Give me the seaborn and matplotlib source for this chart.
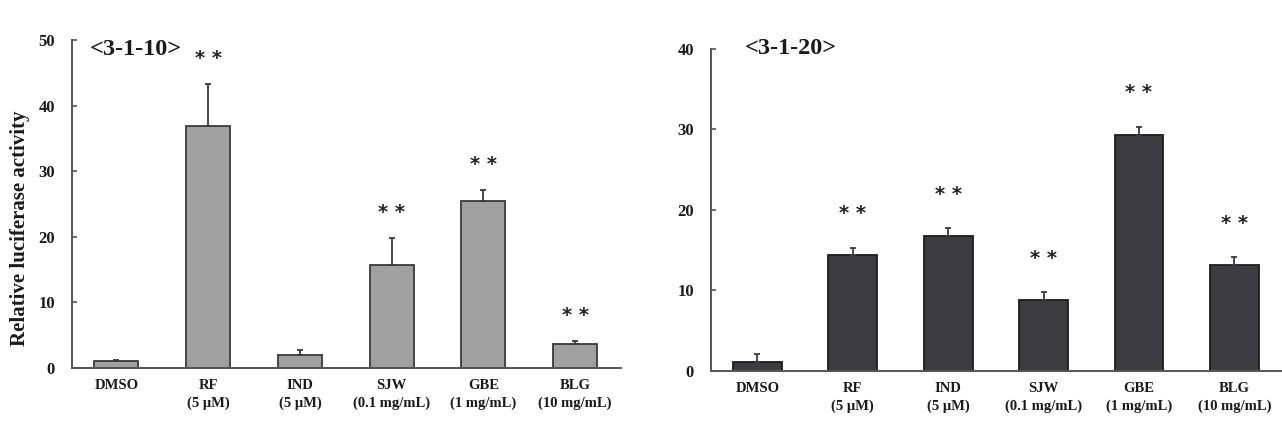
import matplotlib
matplotlib.use("Agg")
import matplotlib.pyplot as plt
import seaborn as sns
import pandas as pd
import numpy as np

categories = ["DMSO", "RF\n(5 \u03bcM)", "IND\n(5 \u03bcM)", "SJW\n(0.1 mg/mL)",
              "GBE\n(1 mg/mL)", "BLG\n(10 mg/mL)"]

left_title = "<3-1-10>"
left_values = [1.0, 36.9, 2.0, 15.7, 25.4, 3.6]
left_err = [0.25, 6.45, 0.7, 4.05, 1.7, 0.45]
left_sig = [False, True, False, True, True, True]
left_yticks = [0, 10, 20, 30, 40, 50]

right_title = "<3-1-20>"
right_values = [1.07, 14.4, 16.7, 8.8, 29.36, 13.15]
right_err = [1.0, 0.9, 1.0, 1.0, 1.0, 0.95]
right_sig = [False, True, True, True, True, True]
right_yticks = [0, 10, 20, 30, 40]

ylabel = "Relative luciferase activity"

sns.set_theme(style="white")
plt.rcParams["font.family"] = ["Liberation Serif", "DejaVu Serif"]
plt.rcParams["font.weight"] = "bold"

fig = plt.figure(figsize=(12.82, 4.26), dpi=100)
W, H = 1282, 426
ax1 = fig.add_axes([71.5 / W, 1 - 367.7 / H, (621 - 71.5) / W, (367.7 - 40) / H])
ax2 = fig.add_axes([710.7 / W, 1 - 370.7 / H, (1282 - 710.7) / W, (370.7 - 49) / H])

txt = "#1a1a1a"
panels = [
    (ax1, left_values, left_err, left_sig, left_yticks, left_title, "#a0a0a0", "#3a3a3a",
     0.48, 3.9, (0.034, 0.97)),
    (ax2, right_values, right_err, right_sig, right_yticks, right_title, "#3d3d41", "#1c1c1c",
     0.51, 4.2, (0.06, 1.003)),
]

for ax, vals, errs, sig, yt, title, fc, ec, bw, off, tpos in panels:
    df = pd.DataFrame({"cat": pd.Categorical(categories, categories=categories, ordered=True),
                       "val": vals})
    sns.barplot(data=df, x="cat", y="val", color=fc, saturation=1, width=bw,
                edgecolor=ec, linewidth=1.3, ax=ax, errorbar=None)
    xs = np.arange(len(vals))
    ax.errorbar(xs, vals, yerr=[np.zeros(len(vals)), errs], fmt="none",
                ecolor="#3a3a3a", elinewidth=1.3, capsize=2, capthick=1.3, zorder=1)
    for x, v, e, s in zip(xs, vals, errs, sig):
        if s:
            ax.text(x, v + e + off, "* *", ha="center", va="center", fontsize=14,
                    fontweight="bold", family=["DejaVu Sans"], color="#222222")
    ax.set_xlim(-0.49, len(vals) - 0.5)
    ax.set_ylim(yt[0], yt[-1])
    ax.set_yticks(yt)
    ax.set_xlabel("")
    ax.set_ylabel("")
    for sp in ["top", "right"]:
        ax.spines[sp].set_visible(False)
    for sp in ["left", "bottom"]:
        ax.spines[sp].set_color("#555555")
        ax.spines[sp].set_linewidth(1.4)
    ax.tick_params(axis="y", direction="in", length=3.5, width=1.2, color="#555555",
                   pad=12, labelsize=12, left=True)
    ax.tick_params(axis="x", length=0, pad=8, labelsize=10.5)
    for lab in ax.get_xticklabels():
        lab.set_fontweight("bold")
        lab.set_linespacing(1.5)
        lab.set_color(txt)
    for lab in ax.get_yticklabels():
        lab.set_fontweight("bold")
        lab.set_color(txt)
    ax.text(tpos[0], tpos[1], title, transform=ax.transAxes, ha="left", va="center",
            fontsize=17.5, fontweight="bold", color=txt)
    ax.set_facecolor("white")

fig.text(20 / W, 1 - 228 / H, ylabel, rotation=90, ha="center", va="center",
         fontsize=15, fontweight="bold", color=txt)

fig.savefig("out.png", dpi=100, facecolor="white")
